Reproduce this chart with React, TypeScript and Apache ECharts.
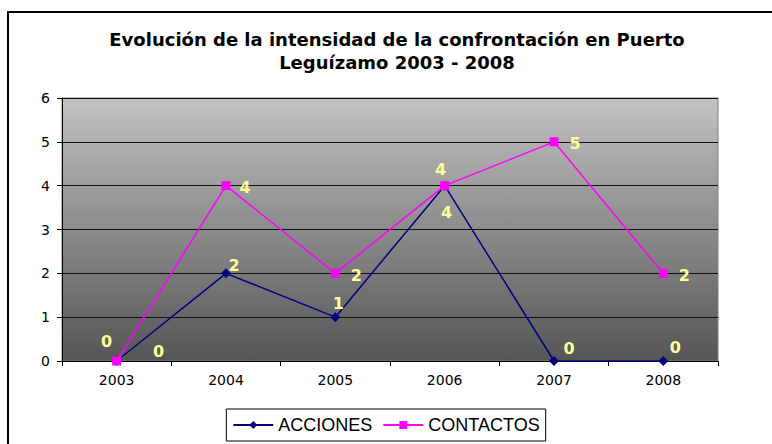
import React, { useEffect, useRef } from "react";
import * as echarts from "echarts";

const titleText = "Evolución de la intensidad de la confrontación en Puerto\nLeguízamo 2003 - 2008";
const categories = ["2003", "2004", "2005", "2006", "2007", "2008"];
const accionesValues = [0, 2, 1, 4, 0, 0];
const contactosValues = [0, 4, 2, 4, 5, 2];
const yTicks = [0, 1, 2, 3, 4, 5, 6];
const accionesLabelOffsets = [[42, -10], [8, -8], [3, -14], [2, 27], [15, -13], [12, -14]];
const contactosLabelOffsets = [[-10, -20], [19, 2], [21, 2], [-4, -16], [21, 2], [21, 2]];

const labelBase = {
  show: true,
  position: "inside",
  color: "#ffff99",
  fontWeight: "bold",
  fontSize: 16,
  fontFamily: "DejaVu Sans",
  align: "center",
  verticalAlign: "middle",
};

export default function App() {
  const ref = useRef<HTMLDivElement>(null);
  useEffect(() => {
    if (!ref.current) return;
    const chart = echarts.init(ref.current, null, { renderer: "svg" });
    chart.setOption({
      animation: false,
      backgroundColor: "#ffffff",
      graphic: [
        {
          type: "rect",
          shape: { x: 8, y: 12, width: 800, height: 500 },
          style: { fill: "none", stroke: "#000", lineWidth: 2 },
          silent: true,
        },
        {
          type: "text",
          x: 397,
          y: 28,
          silent: true,
          style: {
            text: titleText,
            align: "center",
            verticalAlign: "top",
            fontFamily: "DejaVu Sans",
            fontWeight: "bold",
            fontSize: 18,
            lineHeight: 23,
            fill: "#000",
          },
        },
      ],
      legend: {
        top: 409,
        left: "center",
        data: ["ACCIONES", "CONTACTOS"],
        borderColor: "#000",
        borderWidth: 1,
        padding: [7, 6, 7, 6],
        itemWidth: 40,
        itemHeight: 10,
        itemGap: 10,
        textStyle: { fontFamily: "Liberation Sans", fontSize: 18, color: "#000" },
      },
      grid: {
        left: 62,
        right: 54,
        top: 98,
        bottom: 83,
        show: true,
        borderColor: "#808080",
        borderWidth: 1,
        backgroundColor: new echarts.graphic.LinearGradient(0, 0, 0, 1, [
          { offset: 0, color: "#c2c2c2" },
          { offset: 1, color: "#555555" },
        ]),
      },
      xAxis: {
        type: "category",
        data: categories,
        boundaryGap: true,
        axisLine: { lineStyle: { color: "#000", width: 1 } },
        axisTick: { show: true, length: 5, lineStyle: { color: "#000" } },
        axisLabel: { color: "#000", fontSize: 14, fontFamily: "DejaVu Sans", margin: 12 },
      },
      yAxis: {
        type: "value",
        min: yTicks[0],
        max: yTicks[yTicks.length - 1],
        interval: 1,
        axisLine: { show: true, lineStyle: { color: "#000", width: 1 } },
        axisTick: { show: true, length: 5, lineStyle: { color: "#000" } },
        axisLabel: { color: "#000", fontSize: 14, fontFamily: "DejaVu Sans", margin: 12 },
        splitLine: { show: true, lineStyle: { color: "#111", width: 1 } },
      },
      series: [
        {
          name: "ACCIONES",
          type: "line",
          symbol: "diamond",
          symbolSize: 10,
          color: "#000080",
          lineStyle: { color: "#000080", width: 1.5 },
          itemStyle: { color: "#000080" },
          data: accionesValues.map((v, i) => ({
            value: v,
            label: { ...labelBase, offset: accionesLabelOffsets[i] },
          })),
        },
        {
          name: "CONTACTOS",
          type: "line",
          symbol: "rect",
          symbolSize: 9,
          color: "#ff00ff",
          lineStyle: { color: "#ff00ff", width: 1.5 },
          itemStyle: { color: "#ff00ff" },
          data: contactosValues.map((v, i) => ({
            value: v,
            label: { ...labelBase, offset: contactosLabelOffsets[i] },
          })),
        },
      ],
    });
    return () => chart.dispose();
  }, []);
  return (
    <div
      ref={ref}
      style={{ position: "fixed", left: 0, top: 0, width: 772, height: 444 }}
    />
  );
}
